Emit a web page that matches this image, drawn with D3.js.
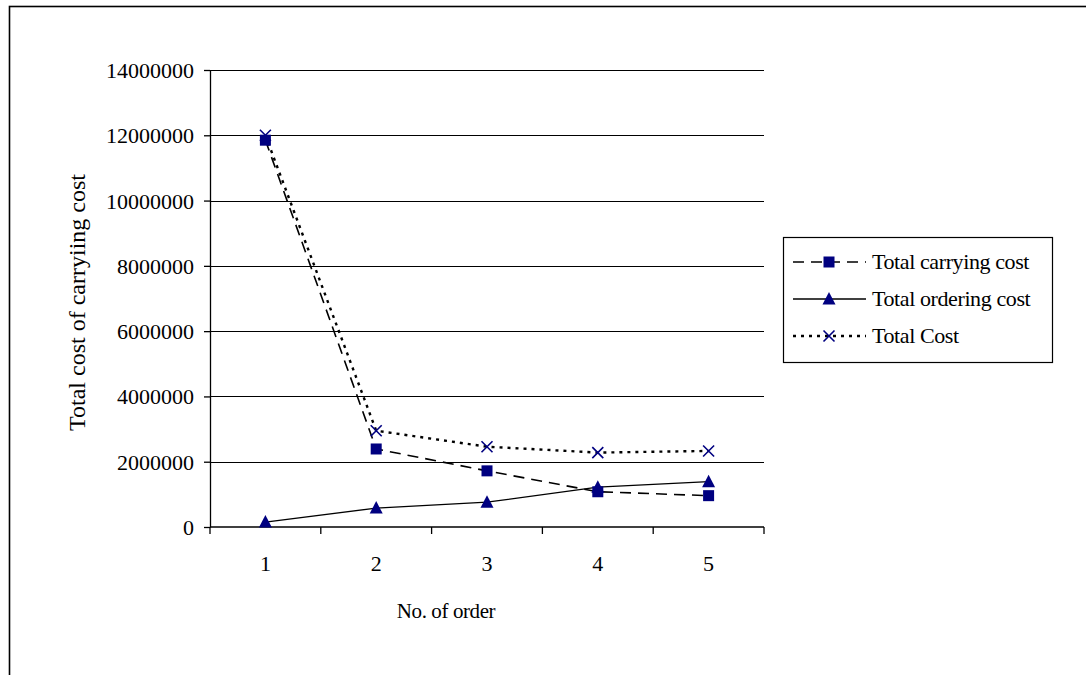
<!DOCTYPE html>
<html>
<head>
<meta charset="utf-8">
<script src="https://cdn.jsdelivr.net/npm/d3@7"></script>
<style>
  body { margin: 0; background: #fff; }
  svg { display: block; font-family: "Liberation Serif", "Times New Roman", serif; }
  svg text { font-family: "Liberation Serif", "Times New Roman", serif; }
</style>
</head>
<body>
<div id="chart"></div>
<script>
const orders = ["1", "2", "3", "4", "5"]
const carryingCost = [11850000, 2390000, 1720000, 1080000, 960000]
const orderingCost = [150000, 580000, 760000, 1220000, 1390000]
const totalCost = [12000000, 2950000, 2460000, 2280000, 2330000]
const yTicks = [0, 2000000, 4000000, 6000000, 8000000, 10000000, 12000000, 14000000]

const width = 1086, height = 675
const margin = [70, 322, 148, 210] // top right bottom left
const navy = "#000080"
const fs = 22

const series = [
  { name: "Total carrying cost", values: carryingCost, dash: "11,7", width: 1.6, marker: "square" },
  { name: "Total ordering cost", values: orderingCost, dash: null, width: 1.3, marker: "triangle" },
  { name: "Total Cost", values: totalCost, dash: "3,5", width: 2.4, marker: "cross" }
]

const x = d3.scaleBand().domain(orders).range([margin[3], width - margin[1]])
const y = d3.scaleLinear().domain([0, 14000000]).range([height - margin[2], margin[0]])

const svg = d3.create("svg")
  .attr("width", width)
  .attr("height", height)
  .attr("viewBox", [0, 0, width, height])

// outer frame (clipped at right/bottom like the original)
svg.append("rect")
  .attr("x", 9.5).attr("y", 6.5)
  .attr("width", width + 20).attr("height", height + 20)
  .attr("fill", "none").attr("stroke", "#000").attr("stroke-width", 1.6)

// gridlines
svg.append("g")
  .selectAll("line")
  .data(yTicks.slice(1))
  .join("line")
  .attr("x1", margin[3]).attr("x2", width - margin[1])
  .attr("y1", d => Math.round(y(d)) + 0.5).attr("y2", d => Math.round(y(d)) + 0.5)
  .attr("stroke", "#000").attr("stroke-width", 1.2)

const yAxis = d3.axisLeft(y).tickValues(yTicks).tickSize(6).tickSizeOuter(0).tickFormat(d3.format("d"))
svg.append("g")
  .attr("transform", `translate(${margin[3]},0)`)
  .call(yAxis)
  .attr("font-family", "Liberation Serif")
  .attr("font-size", fs)
  .call(g => g.selectAll("path, line").attr("stroke", "#000").attr("stroke-width", 1.3))
  .call(g => g.selectAll("text").attr("fill", "#000").attr("x", -16).attr("dy", "0.34em"))

const tickPos = orders.map(d => x(d)).concat([x.range()[1]])
const xg = svg.append("g")
xg.append("line")
  .attr("x1", margin[3]).attr("x2", width - margin[1])
  .attr("y1", y(0)).attr("y2", y(0))
  .attr("stroke", "#000").attr("stroke-width", 1.3)
xg.selectAll(".tk")
  .data(tickPos)
  .join("line")
  .attr("x1", d => d).attr("x2", d => d)
  .attr("y1", y(0)).attr("y2", y(0) + 7)
  .attr("stroke", "#000").attr("stroke-width", 1.3)
xg.selectAll("text")
  .data(orders)
  .join("text")
  .attr("x", d => x(d) + x.bandwidth() / 2)
  .attr("y", y(0) + 44)
  .attr("text-anchor", "middle")
  .attr("font-size", fs)
  .text(d => d)

svg.append("text")
  .attr("x", 446)
  .attr("y", 618)
  .attr("text-anchor", "middle")
  .attr("font-size", 21)
  .attr("letter-spacing", -0.4)
  .text("No. of order")

svg.append("text")
  .attr("transform", `translate(85,${(y(0) + y(14000000)) / 2 + 4}) rotate(-90)`)
  .attr("text-anchor", "middle")
  .attr("font-size", 24)
  .text("Total cost of carryiing cost")

const cx = i => x(orders[i]) + x.bandwidth() / 2
const line = d3.line().x((d, i) => cx(i)).y(d => y(d))

function drawMarker(g, type, px, py) {
  if (type === "square") {
    g.append("rect").attr("x", px - 5.5).attr("y", py - 5.5).attr("width", 11).attr("height", 11).attr("fill", navy)
  } else if (type === "triangle") {
    g.append("path").attr("d", `M${px},${py - 7}L${px + 6.5},${py + 5.5}L${px - 6.5},${py + 5.5}Z`).attr("fill", navy)
  } else {
    g.append("path").attr("d", `M${px - 5.5},${py - 5.5}L${px + 5.5},${py + 5.5}M${px + 5.5},${py - 5.5}L${px - 5.5},${py + 5.5}`)
      .attr("stroke", navy).attr("stroke-width", 1.6).attr("fill", "none")
  }
}

series.forEach(s => {
  svg.append("path")
    .datum(s.values)
    .attr("d", line)
    .attr("fill", "none")
    .attr("stroke", "#000")
    .attr("stroke-width", s.width)
    .attr("stroke-dasharray", s.dash)
})
series.forEach(s => {
  const g = svg.append("g")
  s.values.forEach((v, i) => drawMarker(g, s.marker, cx(i), y(v)))
})

// legend
const lg = svg.append("g")
lg.append("rect")
  .attr("x", 783.5).attr("y", 237.5).attr("width", 269).attr("height", 125)
  .attr("fill", "#fff").attr("stroke", "#000").attr("stroke-width", 1.2)
series.forEach((s, i) => {
  const ly = 262 + i * 37
  lg.append("line")
    .attr("x1", 793).attr("x2", 866).attr("y1", ly).attr("y2", ly)
    .attr("stroke", "#000").attr("stroke-width", s.width)
    .attr("stroke-dasharray", s.dash)
  drawMarker(lg, s.marker, 829, ly)
  lg.append("text")
    .attr("x", 872).attr("y", ly + 7)
    .attr("font-size", fs)
    .attr("letter-spacing", -0.4)
    .text(s.name)
})

document.querySelector("#chart").append(svg.node())
</script>
</body>
</html>
